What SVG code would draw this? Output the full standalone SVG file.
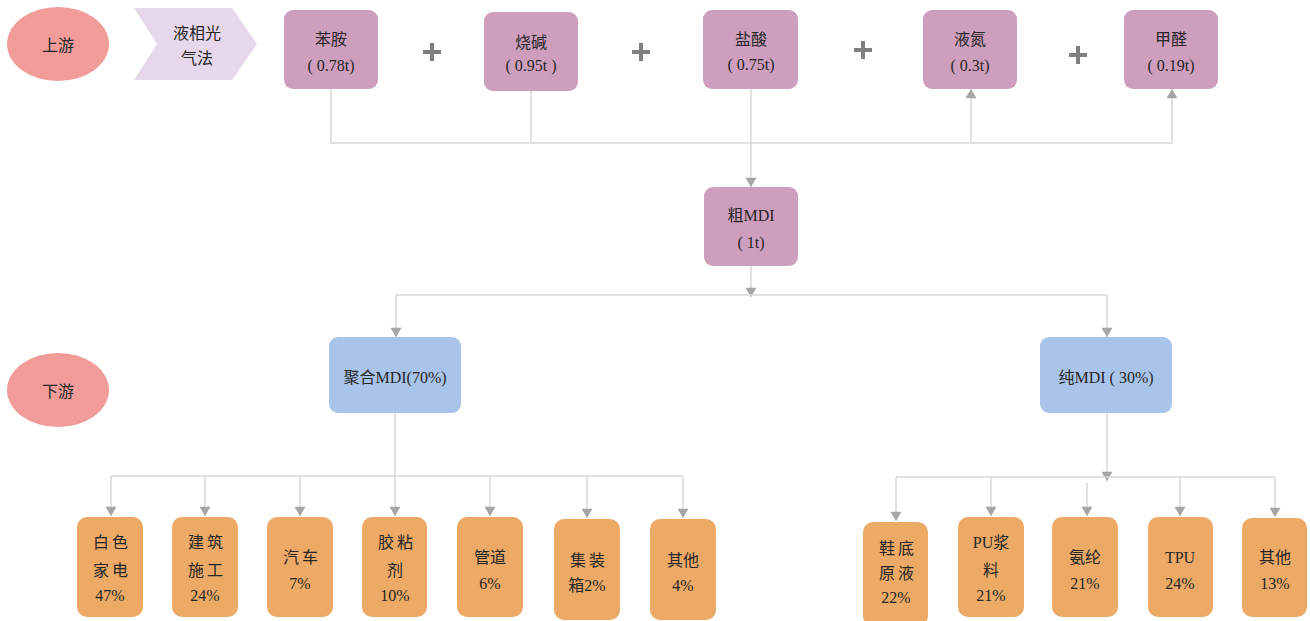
<svg xmlns="http://www.w3.org/2000/svg" width="1310" height="621" viewBox="0 0 1310 621">
  <defs>
    <marker id="arr" viewBox="0 0 10 12" refX="10" refY="6" markerWidth="13" markerHeight="11" markerUnits="userSpaceOnUse" orient="auto">
      <path d="M0,0 L10,6 L0,12 Z" fill="#A6A6A6"/>
    </marker>
    <style>
      text { font-family: "Liberation Serif", "Noto Sans CJK SC", serif; font-size: 16px; fill: #262626; text-anchor: middle; dominant-baseline: central; }
      .stage { fill: #F19C99; }
      .method { fill: #E6D8EA; }
      .raw { fill: #CE9FBD; }
      .mdi { fill: #A8C4EA; }
      .use { fill: #ECAA66; }
      .plus { stroke: #7F7F7F; stroke-width: 4; }
      .wire { fill: none; stroke: #D9D9D9; stroke-width: 1.5; }
      .sp { letter-spacing: 3px; }
    </style>
  </defs>

  <!-- connectors -->
  <g id="connectors">
    <!-- raw materials into crude MDI -->
    <path class="wire" d="M331,89 V143 H1172"/>
    <path class="wire" d="M531,91 V143"/>
    <path class="wire" d="M751,89 V187" marker-end="url(#arr)"/>
    <path class="wire" d="M971,143 V89" marker-end="url(#arr)"/>
    <path class="wire" d="M1172,143 V89" marker-end="url(#arr)"/>
    <!-- crude MDI split -->
    <path class="wire" d="M751,266 V297" marker-end="url(#arr)"/>
    <path class="wire" d="M396,295 H1107"/>
    <path class="wire" d="M396,295 V337" marker-end="url(#arr)"/>
    <path class="wire" d="M1107,295 V337" marker-end="url(#arr)"/>
    <!-- polymeric MDI uses -->
    <path class="wire" d="M111,476 H683"/>
    <path class="wire" d="M395,413 V516" marker-end="url(#arr)"/>
    <path class="wire" d="M111,476 V516" marker-end="url(#arr)"/>
    <path class="wire" d="M205,476 V516" marker-end="url(#arr)"/>
    <path class="wire" d="M300,476 V516" marker-end="url(#arr)"/>
    <path class="wire" d="M490,476 V516" marker-end="url(#arr)"/>
    <path class="wire" d="M587,476 V518" marker-end="url(#arr)"/>
    <path class="wire" d="M683,476 V518" marker-end="url(#arr)"/>
    <!-- pure MDI uses -->
    <path class="wire" d="M1107,413 V481" marker-end="url(#arr)"/>
    <path class="wire" d="M896,477 H1275"/>
    <path class="wire" d="M896,477 V521" marker-end="url(#arr)"/>
    <path class="wire" d="M991,477 V516" marker-end="url(#arr)"/>
    <path class="wire" d="M1087,483 V516" marker-end="url(#arr)"/>
    <path class="wire" d="M1180,477 V516" marker-end="url(#arr)"/>
    <path class="wire" d="M1275,477 V517" marker-end="url(#arr)"/>
  </g>

  <!-- stage labels -->
  <g id="upstream">
    <ellipse class="stage" cx="58" cy="44" rx="51" ry="37"/>
    <text x="58" y="45" font-size="18">上游</text>
  </g>
  <g id="downstream">
    <ellipse class="stage" cx="58" cy="390" rx="51" ry="37"/>
    <text x="58" y="391" font-size="18">下游</text>
  </g>

  <!-- process -->
  <g id="process">
    <polygon class="method" points="134,8 232,8 257,44 232,80 134,80 157,44"/>
    <text x="197" y="33">液相光</text>
    <text x="197" y="58">气法</text>
  </g>

  <!-- raw materials -->
  <g id="aniline">
    <rect class="raw" x="284" y="10" width="94" height="79" rx="9"/>
    <text x="331" y="39">苯胺</text>
    <text x="331" y="65">( 0.78t)</text>
  </g>
  <g id="plus1"><path class="plus" d="M423,52 H441 M432,43 V61"/></g>
  <g id="caustic-soda">
    <rect class="raw" x="484" y="12" width="94" height="79" rx="9"/>
    <text x="531" y="42">烧碱</text>
    <text x="531" y="65">( 0.95t )</text>
  </g>
  <g id="plus2"><path class="plus" d="M632,52 H650 M641,43 V61"/></g>
  <g id="hydrochloric-acid">
    <rect class="raw" x="703" y="10" width="95" height="79" rx="9"/>
    <text x="751" y="39">盐酸</text>
    <text x="751" y="64">( 0.75t)</text>
  </g>
  <g id="plus3"><path class="plus" d="M854,50 H872 M863,41 V59"/></g>
  <g id="liquid-nitrogen">
    <rect class="raw" x="923" y="10" width="94" height="79" rx="9"/>
    <text x="970" y="39">液氮</text>
    <text x="970" y="65">( 0.3t)</text>
  </g>
  <g id="plus4"><path class="plus" d="M1069,55 H1087 M1078,46 V64"/></g>
  <g id="formaldehyde">
    <rect class="raw" x="1124" y="10" width="94" height="79" rx="9"/>
    <text x="1171" y="39">甲醛</text>
    <text x="1171" y="65">( 0.19t)</text>
  </g>

  <!-- MDI -->
  <g id="crude-mdi">
    <rect class="raw" x="704" y="187" width="94" height="79" rx="9"/>
    <text x="751" y="215">粗MDI</text>
    <text x="751" y="242">( 1t)</text>
  </g>
  <g id="polymeric-mdi">
    <rect class="mdi" x="329" y="337" width="132" height="76" rx="9"/>
    <text x="395" y="377">聚合MDI(70%)</text>
  </g>
  <g id="pure-mdi">
    <rect class="mdi" x="1040" y="337" width="132" height="76" rx="9"/>
    <text x="1106" y="377">纯MDI ( 30%)</text>
  </g>

  <!-- polymeric MDI uses -->
  <g id="appliances">
    <rect class="use" x="77" y="517" width="66" height="100" rx="10"/>
    <text class="sp" x="112" y="542">白色</text>
    <text class="sp" x="112" y="570">家电</text>
    <text x="110" y="595">47%</text>
  </g>
  <g id="construction">
    <rect class="use" x="172" y="517" width="66" height="100" rx="10"/>
    <text class="sp" x="207" y="542">建筑</text>
    <text class="sp" x="207" y="570">施工</text>
    <text x="205" y="595">24%</text>
  </g>
  <g id="automotive">
    <rect class="use" x="267" y="517" width="66" height="100" rx="10"/>
    <text class="sp" x="302" y="557">汽车</text>
    <text x="300" y="583">7%</text>
  </g>
  <g id="adhesives">
    <rect class="use" x="362" y="517" width="65" height="100" rx="10"/>
    <text class="sp" x="397" y="542">胶粘</text>
    <text x="395" y="570">剂</text>
    <text x="395" y="595">10%</text>
  </g>
  <g id="pipes">
    <rect class="use" x="457" y="517" width="66" height="100" rx="10"/>
    <text x="490" y="557">管道</text>
    <text x="490" y="583">6%</text>
  </g>
  <g id="containers">
    <rect class="use" x="554" y="519" width="66" height="101" rx="10"/>
    <text class="sp" x="589" y="560">集装</text>
    <text x="587" y="585">箱2%</text>
  </g>
  <g id="other-polymeric">
    <rect class="use" x="650" y="519" width="66" height="101" rx="10"/>
    <text x="683" y="560">其他</text>
    <text x="683" y="585">4%</text>
  </g>

  <!-- pure MDI uses -->
  <g id="shoe-soles">
    <rect class="use" x="863" y="522" width="65" height="104" rx="10"/>
    <text class="sp" x="898" y="548">鞋底</text>
    <text class="sp" x="898" y="573">原液</text>
    <text x="896" y="597">22%</text>
  </g>
  <g id="pu-slurry">
    <rect class="use" x="958" y="517" width="66" height="100" rx="10"/>
    <text x="991" y="542">PU浆</text>
    <text x="991" y="570">料</text>
    <text x="991" y="595">21%</text>
  </g>
  <g id="spandex">
    <rect class="use" x="1052" y="517" width="66" height="100" rx="10"/>
    <text x="1085" y="557">氨纶</text>
    <text x="1085" y="583">21%</text>
  </g>
  <g id="tpu">
    <rect class="use" x="1148" y="517" width="65" height="100" rx="10"/>
    <text x="1180" y="557">TPU</text>
    <text x="1180" y="583">24%</text>
  </g>
  <g id="other-pure">
    <rect class="use" x="1242" y="518" width="65" height="99" rx="10"/>
    <text x="1275" y="557">其他</text>
    <text x="1275" y="583">13%</text>
  </g>
</svg>
